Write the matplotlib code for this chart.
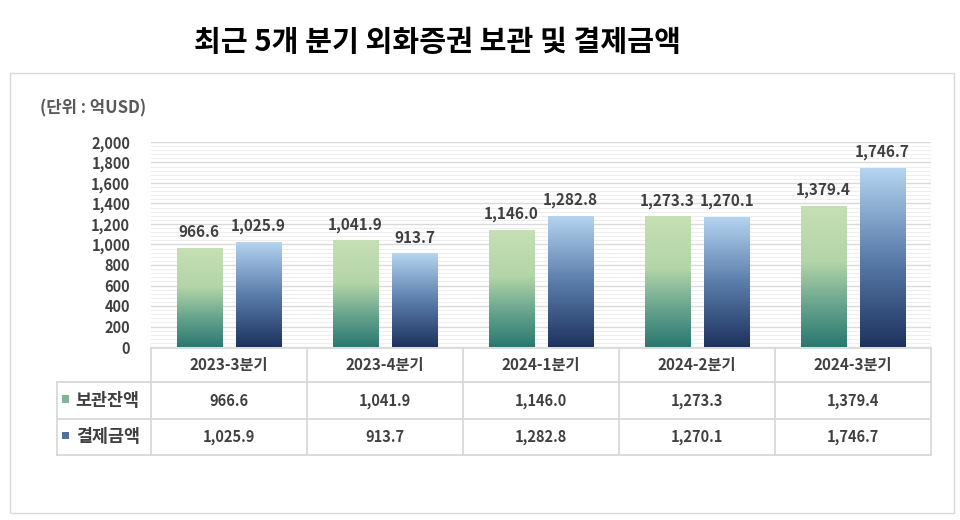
import numpy as np
import matplotlib.pyplot as plt
from matplotlib.colors import LinearSegmentedColormap
from matplotlib.patches import Rectangle
from matplotlib.transforms import blended_transform_factory

plt.rcParams['font.family'] = ['Noto Sans CJK KR', 'DejaVu Sans']

quarters = ['2023-3분기', '2023-4분기', '2024-1분기', '2024-2분기', '2024-3분기']
series_names = ['보관잔액', '결제금액']
custody = [966.6, 1041.9, 1146.0, 1273.3, 1379.4]
settlement = [1025.9, 913.7, 1282.8, 1270.1, 1746.7]
yticks = np.arange(0, 2001, 200)

green = LinearSegmentedColormap.from_list('g', [(0, '#2a7870'), (0.3, '#68a48e'),
                                               (0.6, '#b3d5a7'), (1, '#c6e0b4')])
blue = LinearSegmentedColormap.from_list('b', [(0, '#1e325f'), (0.5, '#5b7eab'),
                                              (1, '#b6d5f1')])
txt = '#404040'
grid_c = '#d9d9d9'

fig = plt.figure(figsize=(9.6, 5.2), dpi=100)
fig.patches.append(Rectangle((10/960, 1 - 513/520), 944/960, 440/520,
                             transform=fig.transFigure, fill=False,
                             edgecolor='#d9d9d9', lw=1))
fig.text(438/960, 1 - 42/520, '최근 5개 분기 외화증권 보관 및 결제금액',
         ha='center', va='center', fontsize=21, fontweight='bold', color='black')
fig.text(40/960, 1 - 108/520, '(단위 : 억USD)', ha='left', va='center',
         fontsize=12, fontweight='bold', color='#595959')

ax = fig.add_axes([151/960, 1 - 347/520, 780/960, 205/520])
x = np.arange(len(quarters))
w = 0.29
off = 0.19
grad = np.linspace(0, 1, 256).reshape(-1, 1)
for vals, dx, cmap in [(custody, -off, green), (settlement, off, blue)]:
    bars = ax.bar(x + dx, vals, w, color='none', edgecolor='none', zorder=3)
    for b in bars:
        im = ax.imshow(grad, cmap=cmap, aspect='auto', origin='lower',
                       extent=(b.get_x(), b.get_x() + b.get_width(), 0, b.get_height()),
                       zorder=3)
        im.set_clip_path(b)
    for b, v in zip(bars, vals):
        ax.text(b.get_x() + b.get_width() / 2, v + 75, f'{v:,.1f}', ha='center',
                va='bottom', fontsize=11, fontweight='bold', color=txt)

ax.set_xlim(-0.5, len(quarters) - 0.5)
ax.set_ylim(0, 2000)
ax.set_yticks(yticks)
ax.set_yticklabels([f'{t:,}' for t in yticks], fontsize=10.5, fontweight='bold', color=txt)
ax.set_yticks(np.arange(0, 2001, 40), minor=True)
ax.yaxis.grid(True, which='minor', color='#eeeeee', lw=0.8, zorder=0)
ax.yaxis.grid(True, which='major', color=grid_c, lw=1, zorder=1)
ax.tick_params(axis='y', which='both', length=0, pad=15)
ax.set_xticks([])
for s in ax.spines.values():
    s.set_visible(False)

# data table under the plot
tr = blended_transform_factory(ax.transData, ax.transAxes)
y_top, y_h, y_r1, y_r2 = -0.005, -0.171, -0.351, -0.527
x_left = -1.103
lk = dict(transform=tr, color=grid_c, lw=1.3, clip_on=False)
ax.plot([-0.5, len(quarters) - 0.5], [y_top, y_top], **lk)
for yy in (y_h, y_r1, y_r2):
    ax.plot([x_left, len(quarters) - 0.5], [yy, yy], **lk)
for xx in np.arange(-0.5, len(quarters), 1.0):
    ax.plot([xx, xx], [y_top, y_r2], **lk)
ax.plot([x_left, x_left], [y_h, y_r2], **lk)

for i, q in enumerate(quarters):
    ax.text(i, (y_top + y_h) / 2, q, transform=tr, ha='center', va='center',
            fontsize=11, fontweight='bold', color=txt)
for yy0, yy1, vals, name, cmap in [(y_h, y_r1, custody, series_names[0], green),
                                   (y_r1, y_r2, settlement, series_names[1], blue)]:
    yc = (yy0 + yy1) / 2
    for i, v in enumerate(vals):
        ax.text(i, yc, f'{v:,.1f}', transform=tr, ha='center', va='center',
                fontsize=10.5, fontweight='bold', color=txt)
    mk = Rectangle((x_left + 0.035, yc - 0.01), 0.04, 0.035, transform=tr,
                   clip_on=False, facecolor=cmap(0.4), edgecolor='none')
    ax.add_patch(mk)
    ax.text(x_left + 0.12, yc, name, transform=tr, ha='left', va='center',
            fontsize=12.5, fontweight='bold', color=txt)

fig.savefig('out.png', dpi=100)
